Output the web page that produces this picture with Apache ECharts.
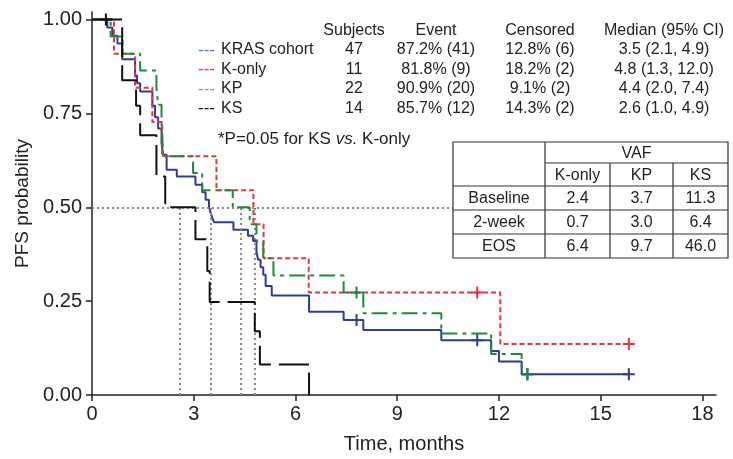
<!DOCTYPE html>
<html><head><meta charset="utf-8">
<script src="https://cdn.jsdelivr.net/npm/echarts@6/dist/echarts.min.js"></script>
<style>html,body{margin:0;padding:0;background:#fff}#c{width:733px;height:459px}</style>
</head><body><div id="c"></div>
<script>
// ---------- data ----------
const xTicks = [0, 3, 6, 9, 12, 15, 18];
const yTicks = [0, 0.25, 0.5, 0.75, 1.0];

const groupNames = ['KRAS cohort', 'K-only', 'KP', 'KS'];
const subjects = [47, 11, 22, 14];
const eventText = ['87.2% (41)', '81.8% (9)', '90.9% (20)', '85.7% (12)'];
const censoredText = ['12.8% (6)', '18.2% (2)', '9.1% (2)', '14.3% (2)'];
const medianText = ['3.5 (2.1, 4.9)', '4.8 (1.3, 12.0)', '4.4 (2.0, 7.4)', '2.6 (1.0, 4.9)'];
const medianValues = [3.5, 4.8, 4.4, 2.6];

// KRAS cohort (all)
const krasTimes = [0, 0.45, 0.6, 0.75, 0.89, 1.27, 1.33, 1.42, 1.78, 1.86, 1.95, 2.05, 2.1, 2.2, 2.5, 3.05, 3.25, 3.35, 3.45, 3.5, 3.55, 3.6, 4.17, 4.6, 4.75, 4.85, 4.9, 4.97, 5.05, 5.12, 5.3, 6.4, 7.42, 8.0, 10.3, 11.77, 12.0, 12.67, 15.83];
const krasSurv  = [1, 0.979, 0.957, 0.936, 0.894, 0.851, 0.83, 0.808, 0.77, 0.74, 0.71, 0.67, 0.64, 0.60, 0.582, 0.56, 0.54, 0.52, 0.50, 0.485, 0.47, 0.46, 0.44, 0.424, 0.41, 0.38, 0.36, 0.34, 0.32, 0.29, 0.265, 0.222, 0.20, 0.173, 0.146, 0.117, 0.089, 0.055, 0.055];
const krasCensT = [7.8, 11.36, 12.84, 15.83];
const krasCensS = [0.20, 0.146, 0.055, 0.055];

// K-only
const konlyTimes = [0, 0.65, 1.27, 1.78, 2.07, 3.67, 4.76, 5.06, 6.39, 12.04, 15.83];
const konlySurv  = [1, 0.909, 0.818, 0.727, 0.636, 0.545, 0.455, 0.364, 0.273, 0.136, 0.136];
const konlyCensT = [11.36, 15.83];
const konlyCensS = [0.273, 0.136];

// KP
const kpTimes = [0, 0.55, 0.9, 1.42, 1.9, 1.95, 2.05, 2.1, 2.98, 3.25, 4.15, 4.65, 4.85, 5.05, 5.35, 7.42, 8.0, 10.3, 11.77, 12.67, 12.84];
const kpSurv  = [1, 0.955, 0.909, 0.864, 0.818, 0.773, 0.727, 0.636, 0.591, 0.545, 0.5, 0.455, 0.409, 0.364, 0.318, 0.273, 0.218, 0.164, 0.109, 0.055, 0.055];
const kpCensT = [7.8, 12.84];
const kpCensS = [0.273, 0.055];

// KS
const ksTimes = [0, 0.89, 1.3, 1.42, 1.9, 2.16, 3.05, 3.4, 3.47, 4.8, 4.95, 6.4];
const ksSurv  = [1, 0.838, 0.77, 0.692, 0.582, 0.5, 0.415, 0.33, 0.248, 0.17, 0.081, 0];
const ksCensT = [0.41];
const ksCensS = [1.0];

// VAF table
const vafCols = ['K-only', 'KP', 'KS'];
const vafRows = ['Baseline', '2-week', 'EOS'];
const vafBaseline = [2.4, 3.7, 11.3];
const vaf2week = [0.7, 3.0, 6.4];
const vafEOS = [6.4, 9.7, 46.0];

// ---------- styling ----------
const FONT = "'Liberation Sans', Arial, sans-serif";
const AXFONT = "'Liberation Sans Narrow', 'Liberation Sans', Arial, sans-serif";
const lineColors = ['#2f3c96', '#e8323a', '#1f8a3b', '#111111'];
const legendColors = ['#3f7fe0', '#d9433f', '#8aa47e', '#111111'];
const dashTypes = ['solid', [5, 3], [16, 5, 4, 5], [30, 8]];
const PLUS = 'path://M5,0H7V5H12V7H7V12H5V7H0V5H5Z';

const zip = (a, b) => a.map((v, i) => [v, b[i]]);
const curves = [
  [krasTimes, krasSurv, krasCensT, krasCensS],
  [konlyTimes, konlySurv, konlyCensT, konlyCensS],
  [kpTimes, kpSurv, kpCensT, kpCensS],
  [ksTimes, ksSurv, ksCensT, ksCensS]
];

const series = [];
curves.forEach((c, i) => {
  series.push({
    name: groupNames[i], type: 'line', step: 'end', symbol: 'none',
    data: zip(c[0], c[1]), z: 3 + i,
    lineStyle: { color: lineColors[i], width: 2, type: dashTypes[i] },
    animation: false
  });
});
curves.forEach((c, i) => {
  series.push({
    name: groupNames[i] + ' censored', type: 'scatter', symbol: PLUS, symbolSize: 12,
    data: zip(c[2], c[3]), z: 8,
    itemStyle: { color: lineColors[i], opacity: 1 }, animation: false
  });
});
// median reference lines
const refData = [[{ coord: [0, 0.5] }, { coord: [10.9, 0.5] }]];
medianValues.forEach(m => refData.push([{ coord: [m, 0] }, { coord: [m, 0.5] }]));
series.push({
  type: 'line', data: [], silent: true, z: 2,
  markLine: {
    silent: true, symbol: ['none', 'none'], label: { show: false }, animation: false,
    lineStyle: { color: '#8a8a8a', width: 2, type: [2, 3] },
    data: refData
  }
});

// ---------- graphics (summary table + VAF table) ----------
const g = [];
const txt = (text, x, y, align, opts) => Object.assign({
  type: 'text', x, y, z: 110,
  style: Object.assign({ text, font: '16px ' + FONT, fill: '#222', align: align || 'center', verticalAlign: 'middle' }, opts || {})
});
const colX = [354, 436, 540, 664];
const rowY = [50, 69.5, 89, 108.5];
['Subjects', 'Event', 'Censored', 'Median (95% CI)'].forEach((h, j) => g.push(txt(h, colX[j], 31)));
groupNames.forEach((n, i) => {
  const y = rowY[i];
  g.push(txt('---', 198, y, 'left', { fill: legendColors[i], font: '17px ' + FONT }));
  g.push(txt(n, 221, y, 'left'));
  g.push(txt(String(subjects[i]), colX[0], y));
  g.push(txt(eventText[i], colX[1], y));
  g.push(txt(censoredText[i], colX[2], y));
  g.push(txt(medianText[i], colX[3], y));
});
g.push({
  type: 'text', x: 218, y: 139, z: 110,
  style: {
    text: '{a|*P=0.05 for KS }{b|vs.}{a| K-only}', verticalAlign: 'middle', align: 'left',
    rich: { a: { font: '17px ' + FONT, fill: '#222' }, b: { font: 'italic 17px ' + FONT, fill: '#222' } }
  }
});
// VAF table
const T = { l: 453, r: 728, t: 142, b: 258, c1: 545, c2: 610, c3: 673, h1: 163, h2: 186, rowH: 24 };
const lineStyle = { stroke: '#333', lineWidth: 1.2 };
g.push({ type: 'rect', z: 100, shape: { x: T.l, y: T.t, width: T.r - T.l, height: T.b - T.t }, style: { fill: '#fff', stroke: '#333', lineWidth: 1.2 } });
const ln = (x1, y1, x2, y2) => g.push({ type: 'line', z: 101, shape: { x1, y1, x2, y2 }, style: lineStyle });
ln(T.c1, T.t, T.c1, T.b);
ln(T.c2, T.h1, T.c2, T.b);
ln(T.c3, T.h1, T.c3, T.b);
ln(T.c1, T.h1, T.r, T.h1);
[T.h2, T.h2 + T.rowH, T.h2 + 2 * T.rowH].forEach(y => ln(T.l, y, T.r, y));
const cCenters = [(T.c1 + T.c2) / 2, (T.c2 + T.c3) / 2, (T.c3 + T.r) / 2];
g.push(txt('VAF', (T.c1 + T.r) / 2, (T.t + T.h1) / 2 + 1));
vafCols.forEach((c, j) => g.push(txt(c, cCenters[j], (T.h1 + T.h2) / 2 + 1)));
[vafBaseline, vaf2week, vafEOS].forEach((row, i) => {
  const y = T.h2 + T.rowH * i + T.rowH / 2 + 1;
  g.push(txt(vafRows[i], (T.l + T.c1) / 2, y));
  row.forEach((v, j) => g.push(txt(v.toFixed(1), cCenters[j], y)));
});

const chart = echarts.init(document.getElementById('c'), null, { renderer: 'canvas' });
chart.setOption({
  backgroundColor: '#fff',
  animation: false,
  grid: { left: 92, right: 17, top: 12, bottom: 56, containLabel: false },
  xAxis: {
    type: 'value', min: 0, max: 18.4, interval: 3,
    name: 'Time, months', nameLocation: 'middle', nameGap: 39,
    nameTextStyle: { fontSize: 20, fontFamily: AXFONT, color: '#222' },
    axisLine: { lineStyle: { color: '#222', width: 1.5 } },
    axisTick: { show: true, length: 6, customValues: xTicks, lineStyle: { color: '#222', width: 1.5 } },
    axisLabel: { customValues: xTicks, fontSize: 20, fontFamily: AXFONT, color: '#222', margin: 9 },
    splitLine: { show: false }
  },
  yAxis: {
    type: 'value', min: 0, max: 1.02, interval: 0.25,
    name: 'PFS probability', nameLocation: 'middle', nameGap: 46,
    nameTextStyle: { fontSize: 19, fontFamily: AXFONT, color: '#222' },
    axisLine: { show: true, lineStyle: { color: '#222', width: 1.5 } },
    axisTick: { show: true, length: 6, customValues: yTicks, lineStyle: { color: '#222', width: 1.5 } },
    axisLabel: { customValues: yTicks, fontSize: 20, fontFamily: AXFONT, color: '#222', margin: 10, formatter: v => v.toFixed(2) },
    splitLine: { show: false }
  },
  series: series,
  graphic: g
});
</script></body></html>
